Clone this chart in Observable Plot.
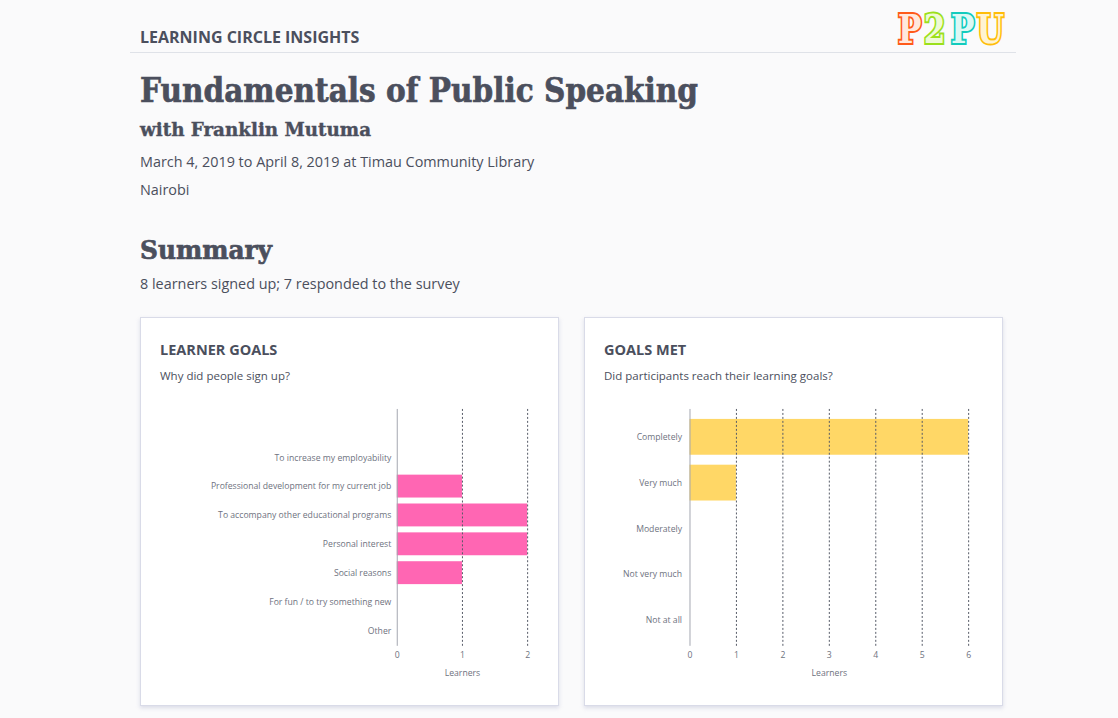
<!DOCTYPE html>
<html>
<head>
<meta charset="utf-8">
<script src="https://cdn.jsdelivr.net/npm/d3@7"></script>
<script src="https://cdn.jsdelivr.net/npm/@observablehq/plot@0.6"></script>
<style>
  html, body { margin: 0; padding: 0; }
  body { width: 1118px; height: 718px; background: #fafafb; font-family: "Open Sans", sans-serif; color: #4b4f5d; position: relative; overflow: hidden; }
  .abs { position: absolute; white-space: nowrap; }
  .slab { font-family: "DejaVu Serif", serif; font-weight: bold; color: #4b4f5d; transform-origin: left center; -webkit-text-stroke: 0.7px #4b4f5d; }
  .card { position: absolute; box-sizing: border-box; background: #fff; border: 1px solid #d9dbe8; box-shadow: 0 2px 4px rgba(180,184,210,0.45); }
  .card h3 { position: absolute; margin: 0; left: 19px; top: 22px; font-size: 14.5px; line-height: 20px; font-weight: 700; color: #4b4f5d; }
  .card p { position: absolute; margin: 0; left: 19px; top: 50px; font-size: 11.5px; line-height: 16px; color: #4b4f5d; }
  .card .plot { position: absolute; left: -1px; top: 82px; }
</style>
</head>
<body>
<div class="abs" style="left:140px;top:26px;font-size:16px;line-height:22px;font-weight:700;color:#4b4f5d;">LEARNING CIRCLE INSIGHTS</div>
<div class="abs" style="left:130px;top:52px;width:886px;height:1px;background:#dfe2e8;"></div>
<svg class="abs" style="left:892px;top:0px;" width="120" height="52">
  <g font-family="DejaVu Serif, serif" font-weight="bold" font-size="40" stroke-width="4" paint-order="stroke" stroke-linejoin="miter" transform="translate(6,43) scale(0.78,1)">
    <text x="0" y="0" fill="#ffe8dd" stroke="#ff5a1a">P</text>
    <text x="33" y="0" fill="#eefad6" stroke="#9be01c">2</text>
    <text x="68" y="0" fill="#dcf8f4" stroke="#12cbbd">P</text>
    <text x="101" y="0" fill="#fff3d2" stroke="#ffbd0a">U</text>
  </g>
</svg>
<div id="title" class="abs slab" style="left:140px;top:68px;font-size:34px;line-height:44px;">Fundamentals of Public Speaking</div>
<div id="sub" class="abs slab" style="left:140px;top:118px;font-size:18px;line-height:24px;-webkit-text-stroke:0.4px #4b4f5d;">with Franklin Mutuma</div>
<div class="abs" style="left:140px;top:151px;font-size:14.4px;line-height:22px;">March 4, 2019 to April 8, 2019 at Timau Community Library</div>
<div class="abs" style="left:140px;top:179px;font-size:14.4px;line-height:22px;">Nairobi</div>
<div id="summary" class="abs slab" style="left:140px;top:232px;font-size:26px;line-height:36px;">Summary</div>
<div class="abs" style="left:140px;top:273px;font-size:14.4px;line-height:22px;">8 learners signed up; 7 responded to the survey</div>

<div class="card" id="card1" style="left:140px;top:317px;width:419px;height:389px;">
  <h3>LEARNER GOALS</h3>
  <p>Why did people sign up?</p>
</div>
<div class="card" id="card2" style="left:584px;top:317px;width:419px;height:389px;">
  <h3>GOALS MET</h3>
  <p>Did participants reach their learning goals?</p>
</div>

<script>
// ---- data ----
const goalCategories = [
  "To increase my employability",
  "Professional development for my current job",
  "To accompany other educational programs",
  "Personal interest",
  "Social reasons",
  "For fun / to try something new",
  "Other"
];
const goalCounts = [0, 1, 2, 2, 1, 0, 0];

const metCategories = ["Completely", "Very much", "Moderately", "Not very much", "Not at all"];
const metCounts = [6, 1, 0, 0, 0];

const goalTicks = [0, 1, 2];
const metTicks = [0, 1, 2, 3, 4, 5, 6];
const axisLabel = "Learners";

// ---- fit slab headings to the reference widths ----
function fitWidth(id, target) {
  const el = document.getElementById(id);
  const w = el.getBoundingClientRect().width;
  el.style.transform = `scaleX(${target / w})`;
}
fitWidth("title", 558);
fitWidth("sub", 231);
fitWidth("summary", 132);

function barChart({categories, counts, ticks, xmax, fill, marginLeft, marginRight, padding, insetTop, insetBottom, tickPadding}) {
  const data = categories.map((c, i) => ({category: c, value: counts[i]}));
  return Plot.plot({
    width: 419,
    height: 300,
    marginTop: 9,
    marginBottom: 53,
    marginLeft,
    marginRight,
    style: {fontFamily: "Open Sans, sans-serif", fontSize: "8.7px", color: "#6e7280", background: "transparent", overflow: "visible"},
    x: {domain: [0, xmax], ticks, tickFormat: "d", tickSize: 0, tickPadding: 6, label: axisLabel, labelAnchor: "center", labelOffset: 30, labelArrow: "none"},
    y: {domain: categories, padding, insetTop, insetBottom, tickSize: 0, tickPadding, label: null},
    marks: [
      Plot.barX(data, {x: "value", y: "category", fill}),
      Plot.gridX(ticks.filter(t => t > 0), {stroke: "#555a66", strokeOpacity: 1, strokeDasharray: "2,2", strokeWidth: 1}),
      Plot.ruleX([0], {stroke: "#a3a6b0", strokeWidth: 1})
    ]
  });
}

function mount(cardId, chart) {
  chart.classList.add("plot");
  document.getElementById(cardId).appendChild(chart);
}

mount("card1", barChart({
  categories: goalCategories, counts: goalCounts, ticks: goalTicks, xmax: 2,
  fill: "#ff66b3", marginLeft: 258, marginRight: 30, padding: 0.2, insetTop: 31, insetBottom: -2, tickPadding: 6
}));

mount("card2", barChart({
  categories: metCategories, counts: metCounts, ticks: metTicks, xmax: 6,
  fill: "#ffd766", marginLeft: 106, marginRight: 33, padding: 0.217, insetTop: 0, insetBottom: -2, tickPadding: 8
}));
</script>
</body>
</html>
